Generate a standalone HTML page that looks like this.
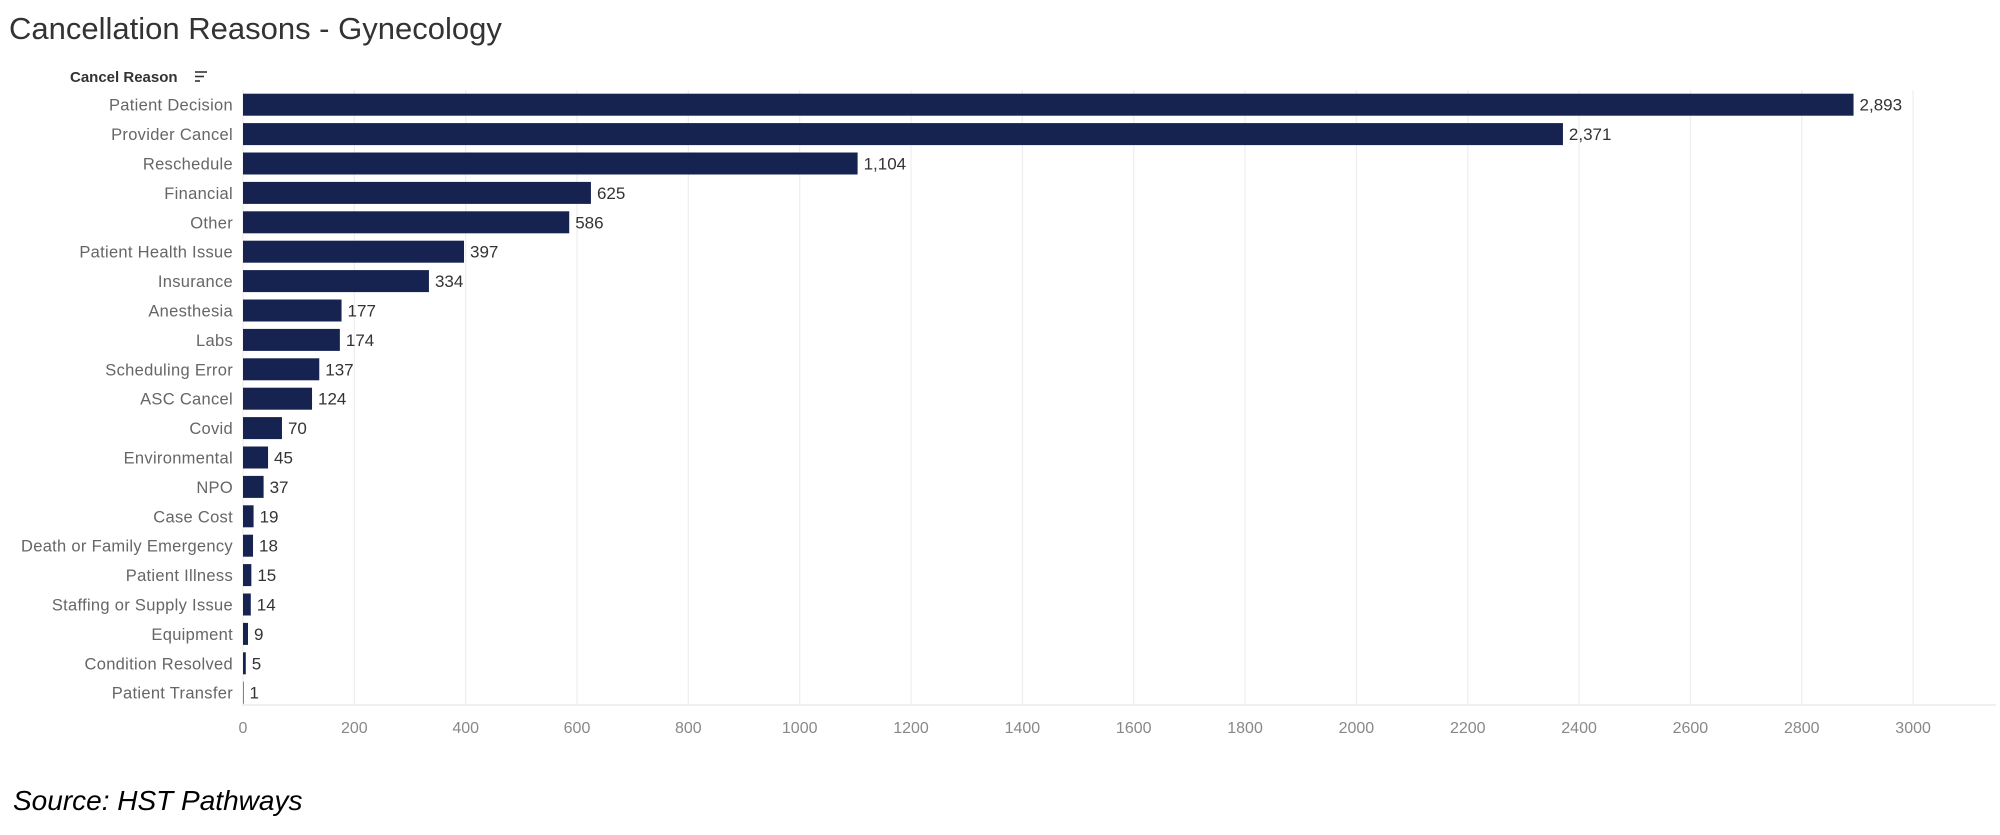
<!DOCTYPE html>
<html><head><meta charset="utf-8"><style>
body{margin:0;background:#fff;width:2000px;height:830px;overflow:hidden;font-family:"Liberation Sans",sans-serif}
</style></head><body>
<svg id="chart" width="2000" height="830" xmlns="http://www.w3.org/2000/svg">
<text x="9" y="39" font-size="31" fill="#333">Cancellation Reasons - Gynecology</text>
<text x="70" y="82" font-size="15" font-weight="bold" fill="#333">Cancel Reason</text>
<g stroke="#333" stroke-width="1.6"><line x1="195" y1="72" x2="207" y2="72"/><line x1="195" y1="76.5" x2="204" y2="76.5"/><line x1="195" y1="81" x2="200" y2="81"/></g>
<g id="grid"></g><g id="bars"></g><g id="xticks"></g>
<text x="13" y="810" font-size="28" font-style="italic" fill="#000">Source: HST Pathways</text>
</svg>
<script>
const categories=["Patient Decision","Provider Cancel","Reschedule","Financial","Other","Patient Health Issue","Insurance","Anesthesia","Labs","Scheduling Error","ASC Cancel","Covid","Environmental","NPO","Case Cost","Death or Family Emergency","Patient Illness","Staffing or Supply Issue","Equipment","Condition Resolved","Patient Transfer"];
const values=[2893,2371,1104,625,586,397,334,177,174,137,124,70,45,37,19,18,15,14,9,5,1];
const tickValues=[0,200,400,600,800,1000,1200,1400,1600,1800,2000,2200,2400,2600,2800,3000];
const NS="http://www.w3.org/2000/svg";
const x0=243,pxPer=0.5567,rowTop=90,rowH=29.4,barH=22,plotBottom=705,plotRight=1996;
const xs=v=>x0+v*pxPer;
const yc=i=>rowTop+rowH*(i+0.5);
function mk(tag,attrs,parent){const e=document.createElementNS(NS,tag);for(const k in attrs)e.setAttribute(k,attrs[k]);parent.appendChild(e);return e;}
const grid=document.getElementById('grid'),bars=document.getElementById('bars'),xt=document.getElementById('xticks');
tickValues.forEach(t=>{
 const g=mk('line',{x1:xs(t),x2:xs(t),y1:rowTop,y2:plotBottom,stroke:'#efefef','stroke-width':1.3},grid);
 
 
 const tx=mk('text',{x:xs(t),y:733,'font-size':16,fill:'#888','text-anchor':'middle'},xt);
 tx.textContent=t;
 
 
});
const ax=mk('line',{x1:x0-1,x2:plotRight,y1:plotBottom,y2:plotBottom,stroke:'#e6e6e6','stroke-width':1.3},grid);


categories.forEach((c,i)=>{
 const y=yc(i);
 const lb=mk('text',{x:233,y:y+6,'font-size':16.5,fill:'#666','text-anchor':'end','letter-spacing':'0.3'},bars);
 lb.textContent=c;
 
 
 const w=Math.max(values[i]*pxPer,values[i]>1?2:0.5);
 const r=mk('rect',{x:x0,y:y-barH/2,width:w,height:barH,fill:'#162350'},bars);
 
 
 const vl=mk('text',{x:x0+w+6,y:y+6,'font-size':17,fill:'#333'},bars);
 vl.textContent=values[i].toLocaleString('en-US');
 
 
});
</script>
</body></html>
